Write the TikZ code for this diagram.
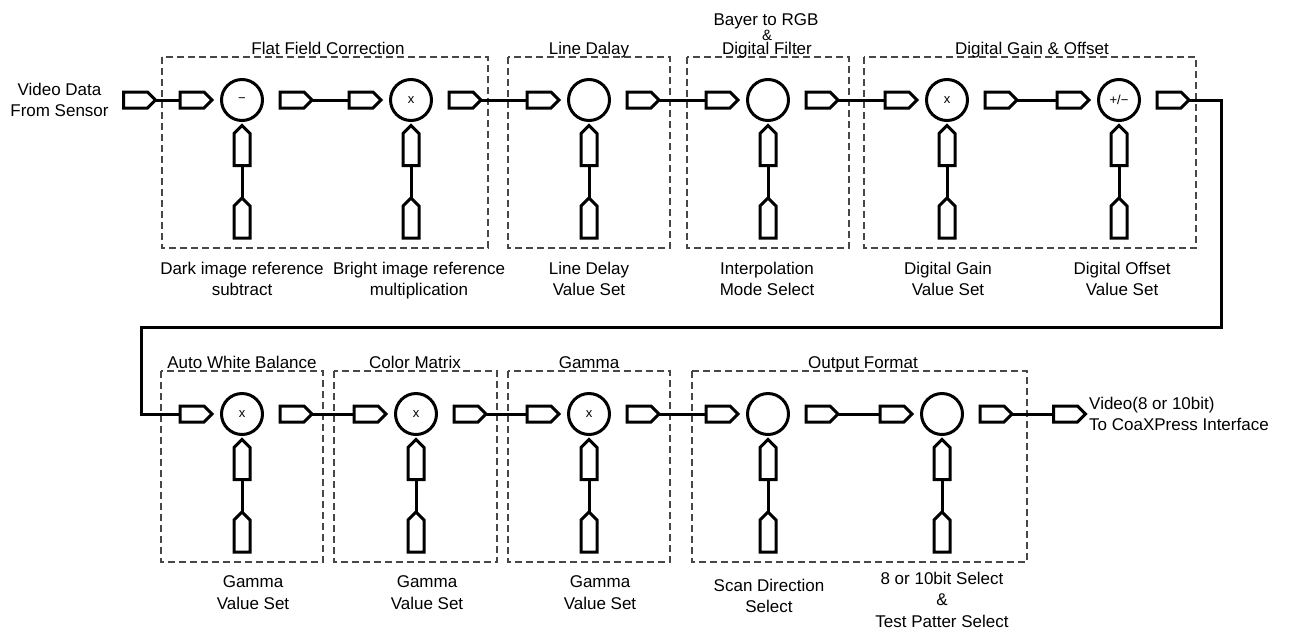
\documentclass[tikz,border=0pt]{standalone}
\usepackage{fontspec}
\setmainfont{Liberation Sans}
\usetikzlibrary{shapes.symbols}
\tikzset{
  hport/.style={shape=signal, signal to=east, signal pointer angle=90, draw, line width=3pt, line join=miter,
    minimum width=32pt, minimum height=16pt, inner sep=0pt, outer sep=0pt},
  vport/.style={shape=signal, signal to=north, signal pointer angle=90, draw, line width=3pt, line join=miter,
    minimum width=16pt, minimum height=32pt, inner sep=0pt, outer sep=0pt},
  opnode/.style={circle, draw, line width=3pt, minimum size=41pt, inner sep=0pt, outer sep=0pt,
    font=\fontsize{13}{15}\selectfont},
  wire/.style={line width=3pt, line join=miter},
  grp/.style={draw=black!72, line width=1.3pt, dash pattern=on 7pt off 4pt},
  lbl/.style={align=center, inner sep=0pt, font=\fontsize{17}{21.5}\selectfont},
}
\newcommand\mkstage[4]{%
  \node[opnode] (#1) at (#2,#3) {#4};
  \node[hport] (#1i) at (#2-50,#3) {};
  \node[hport] (#1o) at (#2+50,#3) {};
  \node[vport] (#1u) at (#2,#3+49.5) {};
  \node[vport] (#1d) at (#2,#3+122) {};
  \draw[wire] (#1d.north) -- (#1u.south);
}
\begin{document}
\begin{tikzpicture}[x=1pt,y=-1pt]
\useasboundingbox (0,0) rectangle (1289,635);
% group boxes
\draw[grp] (162,57) rectangle (488,248);
\draw[grp] (508,57) rectangle (670,248);
\draw[grp] (687,57) rectangle (849,248);
\draw[grp] (864,57) rectangle (1196,248);
\draw[grp] (161,371) rectangle (323,562);
\draw[grp] (334,371) rectangle (497,562);
\draw[grp] (508,371) rectangle (670,562);
\draw[grp] (692,371) rectangle (1027,562);
% titles
\node[lbl] (tff) at (328,49.8) {\strut Flat Field Correction};
\node[lbl] (tld) at (589,49.8) {\strut Line Dalay};
\node[lbl, anchor=base] (tby1) at (766,25) {Bayer to RGB};
\node[lbl, anchor=base, font=\fontsize{15}{17}\selectfont] (tby2) at (767,40) {\&};
\node[lbl, anchor=base] (tby3) at (767,54.5) {Digital Filter};
\node[lbl] (tdg) at (1032,49.8) {\strut Digital Gain \& Offset};
\node[lbl] (tawb) at (242,364) {\strut Auto White Balance};
\node[lbl] (tcm) at (415,364) {\strut Color Matrix};
\node[lbl] (tgm) at (589,364) {\strut Gamma};
\node[lbl] (tof) at (863,364) {\strut Output Format};
% stages
\mkstage{ffa}{242}{100}{−}
\mkstage{ffb}{411}{100}{x}
\mkstage{ld}{589}{100}{}
\mkstage{by}{768}{100}{}
\mkstage{dga}{947}{100}{x}
\mkstage{dgb}{1119}{100}{+/−}
\mkstage{awb}{242}{414}{x}
\mkstage{cm}{416}{414}{x}
\mkstage{gm}{589}{414}{x}
\mkstage{ofa}{768}{414}{}
\mkstage{ofb}{942}{414}{}
% in / out ports
\node[hport] (vin) at (135.5,100) {};
\node[hport] (vout) at (1065.5,414) {};
\coordinate (bendA) at (1221,327);
\coordinate (bendB) at (141,414);
% wires
\draw[wire] (vin.east) -- (ffai.west);
\draw[wire] (ffao.east) -- (ffbi.west);
\draw[wire] (ffbo.east) -- (ldi.west);
\draw[wire] (ldo.east) -- (byi.west);
\draw[wire] (byo.east) -- (dgai.west);
\draw[wire] (dgao.east) -- (dgbi.west);
\draw[wire] (dgbo.east) -| (bendA) -| (bendB) -- (awbi.west);
\draw[wire] (awbo.east) -- (cmi.west);
\draw[wire] (cmo.east) -- (gmi.west);
\draw[wire] (gmo.east) -- (ofai.west);
\draw[wire] (ofao.east) -- (ofbi.west);
\draw[wire] (ofbo.east) -- (vout.west);
% side texts
\node[lbl] (lin) at (59.5,101.5) {\strut Video Data\\\strut From Sensor};
\node[lbl, anchor=west, align=left] (lout) at (1089,415.5) {\strut Video(8 or 10bit)\\\strut To CoaXPress Interface};
% labels
\node[lbl] (lffa) at (242,280.5) {\strut Dark image reference\\\strut subtract};
\node[lbl] (lffb) at (419,280.5) {\strut Bright image reference\\\strut multiplication};
\node[lbl] (lld) at (589,280.5) {\strut Line Delay\\\strut Value Set};
\node[lbl] (lby) at (767,280.5) {\strut Interpolation\\\strut Mode Select};
\node[lbl] (ldga) at (948,280.5) {\strut Digital Gain\\\strut Value Set};
\node[lbl] (ldgb) at (1122,280.5) {\strut Digital Offset\\\strut Value Set};
\node[lbl] (lawb) at (253,594) {\strut Gamma\\\strut Value Set};
\node[lbl] (lcm) at (427,594) {\strut Gamma\\\strut Value Set};
\node[lbl] (lgm) at (600,594) {\strut Gamma\\\strut Value Set};
\node[lbl] (lofa) at (769,597.5) {\strut Scan Direction\\\strut Select};
\node[lbl] (lofb) at (942,601.3) {\strut 8 or 10bit Select\\\strut \&\\\strut Test Patter Select};
\end{tikzpicture}
\end{document}
